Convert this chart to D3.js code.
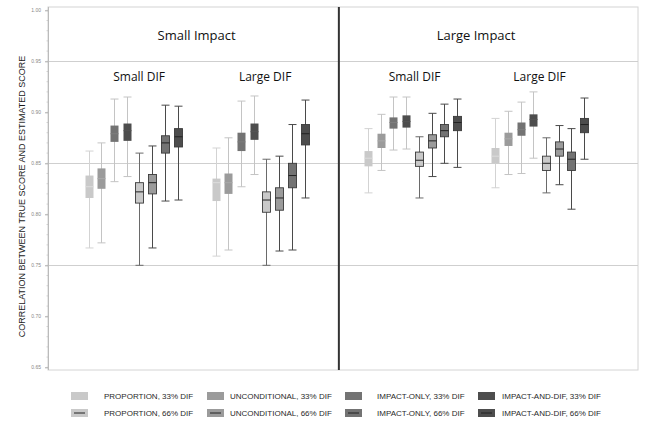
<!DOCTYPE html>
<html><head><meta charset="utf-8">
<script src="https://cdn.jsdelivr.net/npm/d3@7"></script>
<style>body{margin:0;background:#fff}svg{display:block}</style>
</head><body>
<svg id="c" width="650" height="426"></svg>
<script>
// ---- data ----
const impacts = ["Small Impact", "Large Impact"];
const difSizes = ["Small DIF", "Large DIF"];
const methods = ["PROPORTION", "UNCONDITIONAL", "IMPACT-ONLY", "IMPACT-AND-DIF"];
const difPcts = ["33% DIF", "66% DIF"];
const yTickValues = [1.00, 0.95, 0.90, 0.85, 0.80, 0.75, 0.70, 0.65];
const gridValues = [0.95, 0.85, 0.75];
// each box: [min, q1, median, q3, max]; order: 4 methods @33%, then 4 methods @66%
const smallImpactSmallDif = [
  [0.767, 0.816, 0.827, 0.838, 0.862], [0.772, 0.825, 0.835, 0.845, 0.870],
  [0.832, 0.871, 0.879, 0.887, 0.913], [0.837, 0.872, 0.882, 0.889, 0.915],
  [0.750, 0.811, 0.822, 0.831, 0.860], [0.767, 0.820, 0.831, 0.839, 0.867],
  [0.813, 0.860, 0.870, 0.877, 0.907], [0.814, 0.866, 0.876, 0.884, 0.906]
];
const smallImpactLargeDif = [
  [0.759, 0.813, 0.831, 0.835, 0.865], [0.765, 0.820, 0.831, 0.840, 0.875],
  [0.827, 0.862, 0.871, 0.880, 0.911], [0.839, 0.873, 0.881, 0.889, 0.916],
  [0.750, 0.802, 0.814, 0.822, 0.854], [0.764, 0.804, 0.816, 0.826, 0.857],
  [0.765, 0.826, 0.838, 0.850, 0.888], [0.816, 0.868, 0.879, 0.888, 0.912]
];
const largeImpactSmallDif = [
  [0.821, 0.847, 0.855, 0.862, 0.884], [0.843, 0.865, 0.872, 0.879, 0.898],
  [0.863, 0.884, 0.890, 0.895, 0.915], [0.864, 0.885, 0.891, 0.897, 0.915],
  [0.816, 0.847, 0.853, 0.861, 0.876], [0.837, 0.865, 0.872, 0.878, 0.899],
  [0.850, 0.876, 0.882, 0.888, 0.908], [0.846, 0.882, 0.890, 0.896, 0.913]
];
const largeImpactLargeDif = [
  [0.826, 0.850, 0.857, 0.865, 0.894], [0.839, 0.867, 0.874, 0.880, 0.901],
  [0.840, 0.877, 0.883, 0.890, 0.910], [0.855, 0.886, 0.893, 0.898, 0.920],
  [0.821, 0.843, 0.850, 0.857, 0.875], [0.829, 0.857, 0.864, 0.871, 0.887],
  [0.805, 0.843, 0.854, 0.861, 0.884], [0.854, 0.880, 0.888, 0.894, 0.914]
];
const groups = [smallImpactSmallDif, smallImpactLargeDif, largeImpactSmallDif, largeImpactLargeDif];
const methodColors = ["#c9c9c9", "#9b9b9b", "#737373", "#4d4d4d"];
const whisker33 = ["#d3d3d3", "#c4c4c4", "#c4c4c4", "#c4c4c4"];
const yTitle = "CORRELATION BETWEEN TRUE SCORE AND ESTIMATED SCORE";

// ---- layout ----
const svg = d3.select("#c");
const plotTop = 7, plotBottom = 370, plotLeft = 48, plotRight = 638;
const y = d3.scaleLinear().domain([0.65, 1.00]).range([367.3, 10.3]);
const x = d3.scaleLinear().domain([-3.2, 43.25]).range([plotLeft, plotRight]);
const slotOf = (g, k) => g * 10 + (g >= 2 ? 2 : 0) + k;
const boxW = 8, capW = 8;

// frame
svg.append("rect").attr("x", plotLeft).attr("y", plotTop)
  .attr("width", plotRight - plotLeft).attr("height", plotBottom - plotTop)
  .attr("fill", "none").attr("stroke", "#d4d4d4").attr("stroke-width", 1);

// grid
svg.append("g").selectAll("line").data(gridValues).join("line")
  .attr("x1", plotLeft).attr("x2", plotRight)
  .attr("y1", d => Math.round(y(d)) + 0.5).attr("y2", d => Math.round(y(d)) + 0.5)
  .attr("stroke", "#cfcfcf").attr("stroke-width", 1);

// y axis
const yAxis = d3.axisLeft(y).tickValues(yTickValues).tickFormat(d3.format(".2f")).tickSize(3).tickPadding(4);
const ga = svg.append("g").attr("transform", `translate(${plotLeft},0)`).call(yAxis);
ga.select(".domain").remove();
ga.selectAll(".tick line").attr("stroke", "#aaa");
ga.selectAll("text").attr("font-family", "Liberation Sans, Arial, sans-serif").attr("font-size", 5).attr("fill", "#888");
const minor = d3.range(65, 101).map(v => v / 100);
svg.append("g").selectAll("line").data(minor).join("line")
  .attr("x1", plotLeft - 1.5).attr("x2", plotLeft)
  .attr("y1", d => y(d)).attr("y2", d => y(d)).attr("stroke", "#bbb").attr("stroke-width", 0.6);
svg.append("line").attr("x1", plotLeft + 0.5).attr("x2", plotLeft + 0.5)
  .attr("y1", plotTop).attr("y2", plotBottom).attr("stroke", "#bbb");

svg.append("text").attr("transform", `translate(25,${(plotTop + plotBottom) / 2 + 8}) rotate(-90)`)
  .attr("text-anchor", "middle").attr("font-family", "Liberation Sans, Arial, sans-serif")
  .attr("font-size", 9).attr("fill", "#1a1a1a").text(yTitle);

// divider
svg.append("line").attr("x1", x(19.7)).attr("x2", x(19.7)).attr("y1", plotTop).attr("y2", plotBottom)
  .attr("stroke", "#333").attr("stroke-width", 2);

// headers
const hdrFont = "Open Sans, Noto Sans, sans-serif";
impacts.forEach((name, i) => {
  const cx = x((slotOf(2 * i, 0) + slotOf(2 * i + 1, 7)) / 2);
  svg.append("text").attr("x", cx).attr("y", 40).attr("text-anchor", "middle")
    .attr("font-family", hdrFont).attr("font-size", 13).attr("fill", "#111").text(name);
});
const difNudge = [6, 5, 2, 0];
groups.forEach((g, gi) => {
  const cx = x((slotOf(gi, 0) + slotOf(gi, 7)) / 2) + difNudge[gi];
  svg.append("text").attr("x", cx).attr("y", 81).attr("text-anchor", "middle")
    .attr("font-family", hdrFont).attr("font-size", 12).attr("fill", "#111").text(difSizes[gi % 2]);
});

// boxes
groups.forEach((grp, gi) => {
  grp.forEach((b, k) => {
    const [mn, q1, md, q3, mx] = b;
    const m = k % 4, is66 = k >= 4;
    const cx = Math.round(x(slotOf(gi, k))) + 0.5;
    const g = svg.append("g");
    const wc = is66 ? (m === 0 ? "#6a6a6a" : "#4a4a4a") : whisker33[m];
    g.append("line").attr("x1", cx).attr("x2", cx).attr("y1", y(mx)).attr("y2", y(mn)).attr("stroke", wc).attr("stroke-width", 1);
    [mn, mx].forEach(v => g.append("line").attr("x1", cx - capW / 2).attr("x2", cx + capW / 2)
      .attr("y1", y(v)).attr("y2", y(v)).attr("stroke", wc).attr("stroke-width", 1));
    g.append("rect").attr("x", cx - boxW / 2).attr("y", y(q3)).attr("width", boxW).attr("height", y(q1) - y(q3))
      .attr("fill", methodColors[m])
      .attr("stroke", is66 ? "#3a3a3a" : "none").attr("stroke-width", is66 ? 0.9 : 0);
    g.append("line").attr("x1", cx - boxW / 2).attr("x2", cx + boxW / 2).attr("y1", y(md)).attr("y2", y(md))
      .attr("stroke", is66 ? "#222" : d3.color(methodColors[m]).brighter(0.25)).attr("stroke-width", 1);
  });
});

// legend
const legX = [71, 207, 345, 478];
const legTX = [104, 230, 377, 502];
const legY = [396, 413];
difPcts.forEach((p, r) => {
  methods.forEach((mname, m) => {
    svg.append("rect").attr("x", legX[m]).attr("y", legY[r] - 4).attr("width", 17).attr("height", 8)
      .attr("fill", methodColors[m]);
    if (r === 1) svg.append("line").attr("x1", legX[m] + 3).attr("x2", legX[m] + 14)
      .attr("y1", legY[r]).attr("y2", legY[r]).attr("stroke", "#222").attr("stroke-width", 1);
    svg.append("text").attr("x", legTX[m]).attr("y", legY[r] + 3)
      .attr("font-family", "Liberation Sans, Arial, sans-serif").attr("font-size", 8).attr("fill", "#2a2a2a")
      .text(`${mname}, ${p}`);
  });
});
</script>
</body></html>
